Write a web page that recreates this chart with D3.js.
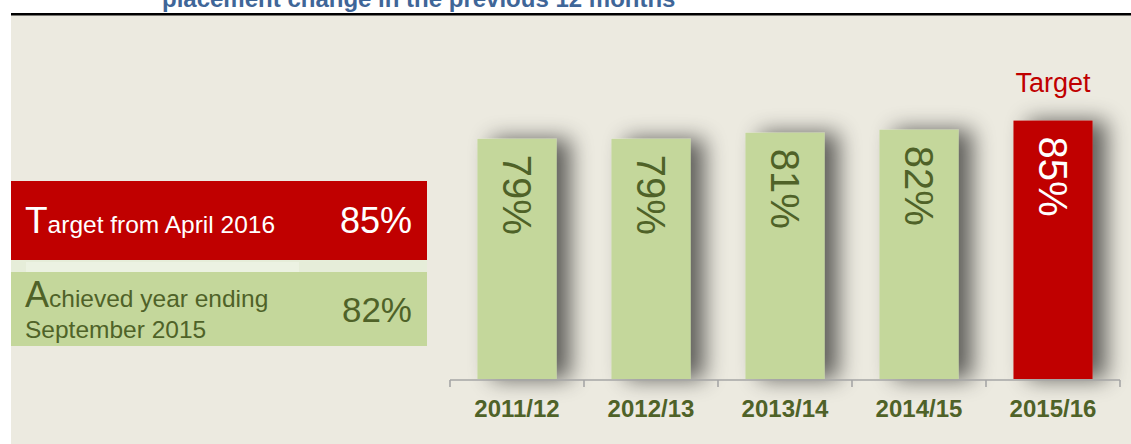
<!DOCTYPE html>
<html>
<head>
<meta charset="utf-8">
<script src="https://cdn.jsdelivr.net/npm/d3@7"></script>
<style>
  html, body { margin: 0; padding: 0; background: #ffffff; }
  svg { display: block; font-family: Arial, "Liberation Sans", sans-serif; }
</style>
</head>
<body>
<div id="chart"></div>
<script>
'use strict';

const width = 1131;
const height = 444;

// data
const years = ["2011/12", "2012/13", "2013/14", "2014/15", "2015/16"];
const values = [79, 79, 81, 82, 85];
const isTarget = [false, false, false, false, true];
const targetValue = 85;
const achievedValue = 82;

const red = "#C00000";
const green = "#C4D79B";
const olive = "#4F6228";

const svg = d3.select("#chart")
    .append("svg")
    .attr("width", width)
    .attr("height", height);

const defs = svg.append("defs");
const shadow = defs.append("filter")
    .attr("id", "shadow")
    .attr("x", "-50%").attr("y", "-50%")
    .attr("width", "200%").attr("height", "200%");
shadow.append("feGaussianBlur").attr("in", "SourceAlpha").attr("stdDeviation", 11).attr("result", "blur");
shadow.append("feOffset").attr("in", "blur").attr("dx", 14).attr("dy", 0).attr("result", "off");
shadow.append("feComponentTransfer").attr("in", "off").attr("result", "soft")
    .append("feFuncA").attr("type", "linear").attr("slope", 0.6);
const merge = shadow.append("feMerge");
merge.append("feMergeNode").attr("in", "soft");
merge.append("feMergeNode").attr("in", "SourceGraphic");

// title (cut off at top, as in the source)
svg.append("text")
    .attr("x", 162)
    .attr("y", 7)
    .attr("font-size", 24)
    .attr("font-weight", "bold")
    .attr("fill", "#3F6698")
    .text("placement change in the previous 12 months");

// panel
svg.append("rect")
    .attr("x", 11).attr("y", 15)
    .attr("width", width - 11).attr("height", height - 15)
    .attr("fill", "#ECEAE0");

svg.append("rect")
    .attr("x", 11).attr("y", 13)
    .attr("width", width - 11).attr("height", 2.5)
    .attr("fill", "#000");

// left info boxes
svg.append("rect").attr("x", 11).attr("y", 181).attr("width", 416).attr("height", 79).attr("fill", red);
svg.append("rect").attr("x", 11).attr("y", 260).attr("width", 416).attr("height", 12).attr("fill", "#E6EDD9");
svg.append("rect").attr("x", 26).attr("y", 262).attr("width", 273).attr("height", 10).attr("fill", "#ECF2E2");
svg.append("rect").attr("x", 11).attr("y", 272).attr("width", 416).attr("height", 74).attr("fill", green);

const t1 = svg.append("text").attr("x", 25).attr("y", 233).attr("fill", "#fff").attr("font-size", 24.5);
t1.append("tspan").attr("font-size", 37).text("T");
t1.append("tspan").text("arget from April 2016");
svg.append("text").attr("x", 412).attr("y", 233).attr("text-anchor", "end")
    .attr("fill", "#fff").attr("font-size", 36).text(targetValue + "%");

const t2 = svg.append("text").attr("x", 25).attr("y", 307).attr("fill", olive).attr("font-size", 24.5);
t2.append("tspan").attr("font-size", 36).text("A");
t2.append("tspan").text("chieved year ending");
svg.append("text").attr("x", 25).attr("y", 338).attr("fill", olive).attr("font-size", 24.5)
    .text("September 2015");
svg.append("text").attr("x", 412).attr("y", 322).attr("text-anchor", "end")
    .attr("fill", olive).attr("font-size", 35).text(achievedValue + "%");

// bar chart
const x = d3.scaleBand()
    .domain(years)
    .range([450, 1120])
    .paddingInner(0.41)
    .paddingOuter(0.205);

const y = d3.scaleLinear()
    .domain([0, 100])
    .range([379, 75]);

const bars = svg.append("g").selectAll("g")
    .data(years)
    .join("g");

bars.append("rect")
    .attr("x", d => x(d))
    .attr("y", (d, i) => y(values[i]))
    .attr("width", x.bandwidth())
    .attr("height", (d, i) => y(0) - y(values[i]))
    .attr("fill", (d, i) => isTarget[i] ? red : green)
    .attr("filter", "url(#shadow)");

bars.append("text")
    .attr("transform", (d, i) => `translate(${x(d) + x.bandwidth() / 2},${y(values[i]) + 16}) rotate(90)`)
    .attr("dy", "0.36em")
    .attr("font-size", 40)
    .attr("fill", (d, i) => isTarget[i] ? "#fff" : olive)
    .text((d, i) => values[i] + "%");

// "Target" label above target bar
years.forEach((d, i) => {
    if (!isTarget[i]) return;
    svg.append("text")
        .attr("x", x(d) + x.bandwidth() / 2)
        .attr("y", y(values[i]) - 29)
        .attr("text-anchor", "middle")
        .attr("font-size", 27)
        .attr("fill", red)
        .text("Target");
});

// axis
const step = x.step();
const boundaries = years.map(d => x(d) - step * x.paddingInner() / 2)
    .concat([x(years[years.length - 1]) + x.bandwidth() + step * x.paddingInner() / 2]);

const axis = svg.append("g").attr("stroke", "#A6A6A6").attr("stroke-width", 1.6);
axis.append("line")
    .attr("x1", boundaries[0]).attr("x2", boundaries[boundaries.length - 1])
    .attr("y1", 380).attr("y2", 380);
axis.selectAll(".tick")
    .data(boundaries)
    .join("line")
    .attr("x1", d => d).attr("x2", d => d)
    .attr("y1", 380).attr("y2", 387);

svg.append("g").selectAll("text")
    .data(years)
    .join("text")
    .attr("x", d => x(d) + x.bandwidth() / 2)
    .attr("y", 417)
    .attr("text-anchor", "middle")
    .attr("font-size", 24)
    .attr("font-weight", "bold")
    .attr("fill", olive)
    .text(d => d);
</script>
</body>
</html>
